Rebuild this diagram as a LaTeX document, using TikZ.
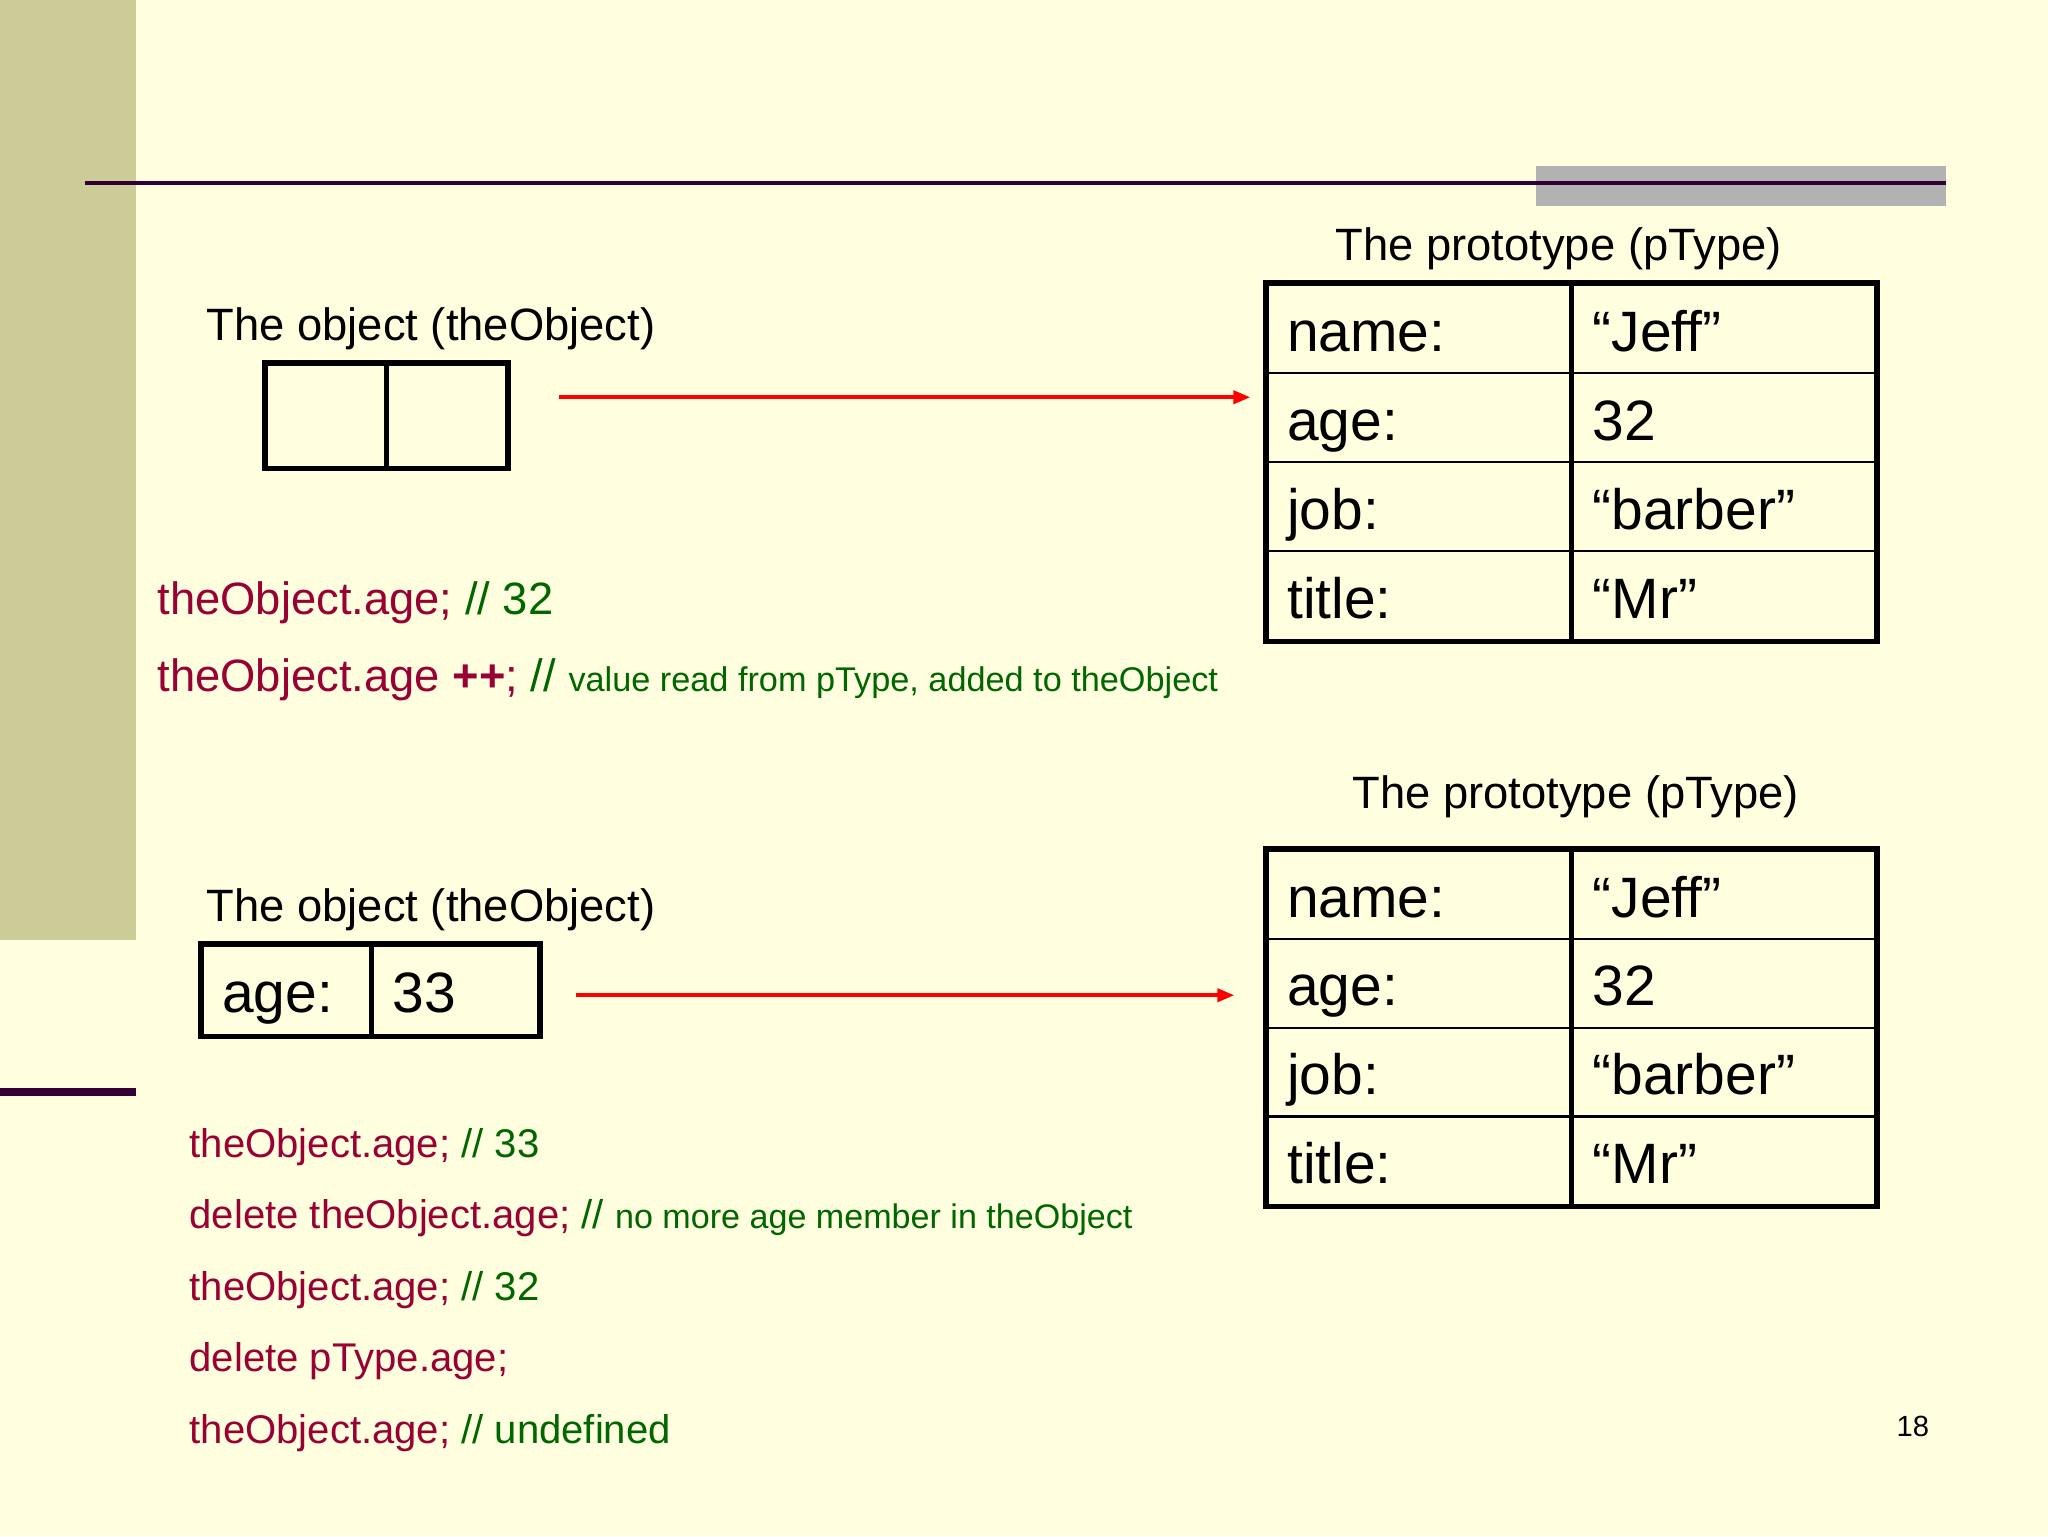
\documentclass[tikz,border=0pt]{standalone}
\usepackage{fontspec}
\setmainfont{Liberation Sans}
\usetikzlibrary{arrows.meta,positioning,fit}
\definecolor{slBg}{HTML}{FFFFE0}
\definecolor{slSide}{HTML}{CCCC99}
\definecolor{slRule}{HTML}{330033}
\definecolor{slGrey}{HTML}{B2B2B2}
\definecolor{slCode}{HTML}{990033}
\definecolor{slNote}{HTML}{006600}
\newcommand{\fsz}[1]{\fontsize{#1}{#1}\selectfont}
\newcommand{\cmt}[1]{{\color{slNote}#1}}
\tikzset{
  lbl/.style     ={inner sep=0pt,anchor=base west,font=\fsz{12.9}},
  code/.style    ={inner sep=0pt,anchor=base west,text=slCode},
  cell/.style    ={draw=black,line width=0.7pt,inner xsep=2mm,inner ysep=0pt,
                   align=left,font=\fsz{16.2},text height=16.2pt,text depth=3.4pt,
                   anchor=north west},
  keycell/.style ={cell,text width=26.3mm},
  frame/.style   ={draw=black,line width=1.5pt,inner sep=0pt},
  ptr/.style     ={-{Triangle[length=1.7mm,width=1.3mm]},red,line width=1.1pt},
}
\begin{document}
\begin{tikzpicture}[x=0.1mm,y=-0.1mm]
% slide background
\fill[slBg] (0,0) rectangle (2048,1536);
\useasboundingbox (0,0) rectangle (2048,1536);
\fill[slSide] (0,0) rectangle (136,940);
\fill[slRule] (0,1088) rectangle (136,1096);
\fill[slGrey] (1536,166) rectangle (1946,206);
\draw[slRule,line width=1.1pt] (85,183) -- (1946,183);

% upper half: object with no own members
\node[lbl] (otitle1) at (206,340) {The object (theObject)};
\node[cell,minimum width=11.9mm,minimum height=10.3mm] (o1a) at (265,363) {};
\node[cell,minimum width=11.9mm,minimum height=10.3mm] (o1b) at (o1a.north east) {};
\node[frame,fit=(o1a)(o1b)] (obj1) {};

\node[lbl] (ptitle1) at (1335,260) {The prototype (pType)};
\foreach \k/\v [count=\i] in {name:/“Jeff”, age:/32, job:/“barber”, title:/“Mr”} {
  \node[keycell,minimum height=8.9mm] (t1k\i) at (1266,{283+89*(\i-1)}) {\k};
  \node[keycell,minimum height=8.9mm] (t1v\i) at (t1k\i.north east) {\v};
}
\node[frame,fit=(t1k1)(t1v4)] (t1) {};

\draw[ptr,shorten <=4.8mm,shorten >=1.3mm]
  ([yshift=1.85mm]obj1.east) -- ([yshift=1.85mm]obj1.east -| t1.west);

\node[code,font=\fsz{12.9}] (c1) at (157,614) {theObject.age; \cmt{// 32}};
\node[code,font=\fsz{12.9}] (c2) at (157,691)
  {theObject.age \textbf{++}; \cmt{// {\fsz{9.75}value read from pType, added to theObject}}};

% lower half: object with its own age
\node[lbl] (otitle2) at (206,921) {The object (theObject)};
\node[cell,text width=12.8mm,minimum height=9mm] (o2a) at (201,944) {age:};
\node[cell,text width=12.6mm,minimum height=9mm] (o2b) at (o2a.north east) {33};
\node[frame,fit=(o2a)(o2b)] (obj2) {};

\node[lbl] (ptitle2) at (1352,808) {The prototype (pType)};
\foreach \k/\v [count=\i] in {name:/“Jeff”, age:/32, job:/“barber”, title:/“Mr”} {
  \node[keycell,minimum height=8.875mm] (t2k\i) at (1266,{849+88.75*(\i-1)}) {\k};
  \node[keycell,minimum height=8.875mm] (t2v\i) at (t2k\i.north east) {\v};
}
\node[frame,fit=(t2k1)(t2v4)] (t2) {};

\draw[ptr,shorten <=3.3mm,shorten >=2.9mm]
  ([yshift=-0.5mm]obj2.east) -- ([yshift=-0.5mm]obj2.east -| t2.west);

\node[code,font=\fsz{11.4}] (c3) at (189,1157) {theObject.age; \cmt{// 33}};
\node[code,font=\fsz{11.4}] (c4) at (189,1228)
  {delete theObject.age; \cmt{// {\fsz{9.7}no more age member in theObject}}};
\node[code,font=\fsz{11.4}] (c5) at (189,1300) {theObject.age; \cmt{// 32}};
\node[code,font=\fsz{11.4}] (c6) at (189,1371) {delete pType.age;};
\node[code,font=\fsz{11.4}] (c7) at (189,1443) {theObject.age; \cmt{// undefined}};

% page number
\node[lbl,font=\fsz{8.3}] (pnum) at (1896,1436) {18};
\end{tikzpicture}
\end{document}
